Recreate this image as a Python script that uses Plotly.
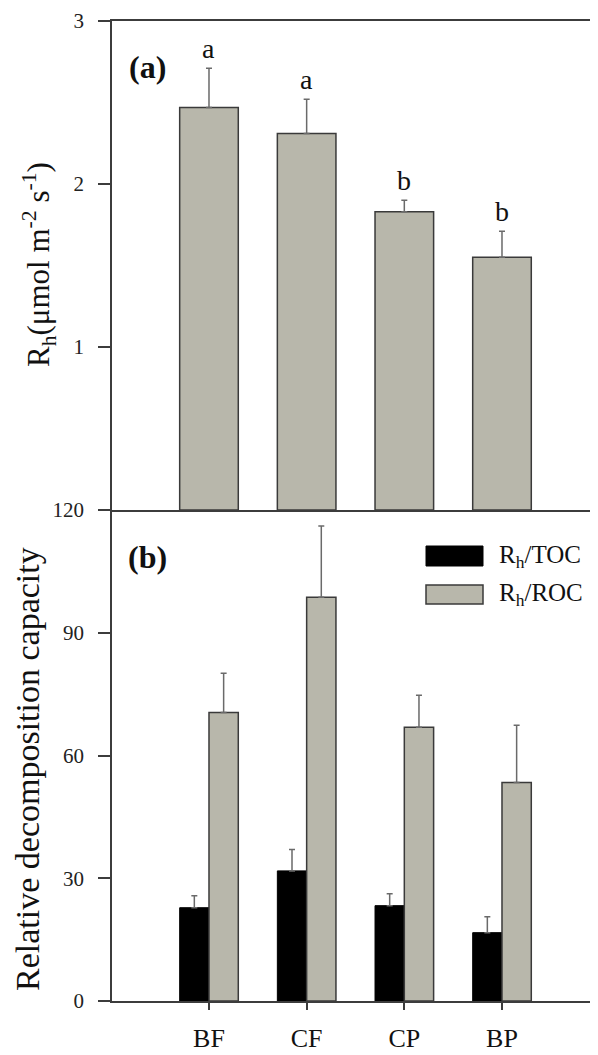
import plotly.graph_objects as go
from plotly.subplots import make_subplots

# ---- data ----
sites = ["BF", "CF", "CP", "BP"]
rh_values = [2.47, 2.31, 1.83, 1.55]
rh_err = [0.24, 0.21, 0.07, 0.16]
rh_letters = ["a", "a", "b", "b"]

toc_values = [22.8, 31.8, 23.3, 16.7]
toc_err = [2.9, 5.2, 2.9, 3.9]
roc_values = [70.5, 98.7, 66.9, 53.4]
roc_err = [9.6, 17.4, 7.8, 14.0]

y1_ticks = [1, 2, 3]
y2_ticks = [0, 30, 60, 90, 120]

FONT = "Liberation Serif, Times New Roman, serif"
GREY = "#b8b7ab"
EDGE = "#3a3a3a"
ERRC = "#6a6a6a"
AXC = "#3c3c3c"

xpos = list(range(len(sites)))

fig = make_subplots(rows=2, cols=1, shared_xaxes=False, vertical_spacing=0)

fig.add_trace(go.Bar(
    x=xpos, y=rh_values, name="Rh",
    marker=dict(color=GREY, line=dict(color=EDGE, width=1.5)),
    error_y=dict(type="data", array=rh_err, arrayminus=[0]*4, symmetric=False,
                 color=ERRC, thickness=1.5, width=3),
    showlegend=False,
), row=1, col=1)

fig.add_trace(go.Bar(
    x=xpos, y=toc_values, name="Rh/TOC",
    marker=dict(color="#000000", line=dict(color="#000000", width=1)),
    error_y=dict(type="data", array=toc_err, arrayminus=[0]*4, symmetric=False,
                 color=ERRC, thickness=1.5, width=3),
    showlegend=False,
), row=2, col=1)

fig.add_trace(go.Bar(
    x=xpos, y=roc_values, name="Rh/ROC",
    marker=dict(color=GREY, line=dict(color=EDGE, width=1.5)),
    error_y=dict(type="data", array=roc_err, arrayminus=[0]*4, symmetric=False,
                 color=ERRC, thickness=1.5, width=3),
    showlegend=False,
), row=2, col=1)

XR = [-0.993, 3.983]

# page has an 8px body margin; figure sized so the plot area lands at page x 112-598, y 21-1001
fig.update_layout(
    width=590, height=1047,
    margin=dict(l=104, r=0, t=13, b=54, autoexpand=False),
    paper_bgcolor="white", plot_bgcolor="white",
    barmode="group", bargap=0.4, bargroupgap=0,
    font=dict(family=FONT, color="#111111"),
    xaxis=dict(range=XR, domain=[0, 1], showline=True, linecolor=AXC, linewidth=1.5,
               mirror=True, ticks="", showticklabels=False, showgrid=False, zeroline=False,
               automargin=False),
    yaxis=dict(range=[0, 3], domain=[0.501, 1], tickvals=y1_ticks,
               ticks="outside", ticklen=12, tickwidth=1.5, tickcolor=AXC,
               showline=True, linecolor=AXC, linewidth=1.5, showgrid=False, zeroline=False,
               tickfont=dict(size=21, family=FONT, color="#222222"), ticklabelstandoff=10,
               automargin=False),
    xaxis2=dict(range=XR, domain=[0, 1], tickvals=xpos, ticktext=sites,
                ticks="outside", ticklen=7, tickwidth=1.5, tickcolor=AXC,
                showline=True, linecolor=AXC, linewidth=1.5, showgrid=False, zeroline=False,
                tickfont=dict(size=26, family=FONT, color="#111111"), ticklabelstandoff=6,
                automargin=False),
    yaxis2=dict(range=[0, 120], domain=[0, 0.501], tickvals=y2_ticks,
                ticks="outside", ticklen=12, tickwidth=1.5, tickcolor=AXC,
                showline=True, linecolor=AXC, linewidth=1.5, showgrid=False, zeroline=False,
                tickfont=dict(size=21, family=FONT, color="#222222"), ticklabelstandoff=10,
                automargin=False),
)

def px_x(px):
    return (px - 112) / 486

def px_y(py):
    return (1001 - py) / 980

annotations = []
# significance letters
for i, (v, e, L) in enumerate(zip(rh_values, rh_err, rh_letters)):
    annotations.append(dict(x=i, y=v + e, xref="x", yref="y", text=L, showarrow=False,
                            xanchor="center", yanchor="bottom", yshift=2,
                            font=dict(size=28, family=FONT, color="#111111")))
# panel labels
annotations.append(dict(x=px_x(147), y=px_y(67), xref="paper", yref="paper",
                        xanchor="center", yanchor="middle",
                        text="<b>(a)</b>", showarrow=False, font=dict(size=32, family=FONT, color="#111111")))
annotations.append(dict(x=px_x(147), y=px_y(557), xref="paper", yref="paper",
                        xanchor="center", yanchor="middle",
                        text="<b>(b)</b>", showarrow=False, font=dict(size=32, family=FONT, color="#111111")))
# axis titles
annotations.append(dict(x=px_x(39), y=px_y(265), xref="paper", yref="paper",
                        xanchor="center", yanchor="middle",
                        text="R<sub>h</sub>(μmol m<sup>-2</sup> s<sup>-1</sup>)", textangle=-90,
                        showarrow=False, font=dict(size=31, family=FONT, color="#111111")))
annotations.append(dict(x=px_x(27), y=px_y(769), xref="paper", yref="paper",
                        xanchor="center", yanchor="middle",
                        text="Relative decomposition capacity", textangle=-90,
                        showarrow=False, font=dict(size=34, family=FONT, color="#111111")))
# legend text
annotations.append(dict(x=px_x(497), y=px_y(556), xref="paper", yref="paper",
                        text="R<sub>h</sub>/TOC", xanchor="left", yanchor="middle", showarrow=False,
                        font=dict(size=25, family=FONT, color="#111111")))
annotations.append(dict(x=px_x(497), y=px_y(595), xref="paper", yref="paper",
                        text="R<sub>h</sub>/ROC", xanchor="left", yanchor="middle", showarrow=False,
                        font=dict(size=25, family=FONT, color="#111111")))

shapes = [
    dict(type="rect", xref="paper", yref="paper",
         x0=px_x(426), x1=px_x(483), y0=px_y(566), y1=px_y(546),
         fillcolor="#000000", line=dict(color="#000000", width=1)),
    dict(type="rect", xref="paper", yref="paper",
         x0=px_x(426), x1=px_x(483), y0=px_y(604), y1=px_y(585),
         fillcolor=GREY, line=dict(color=EDGE, width=1.5)),
]

fig.update_layout(annotations=annotations, shapes=shapes)

fig.write_html("out.html")
